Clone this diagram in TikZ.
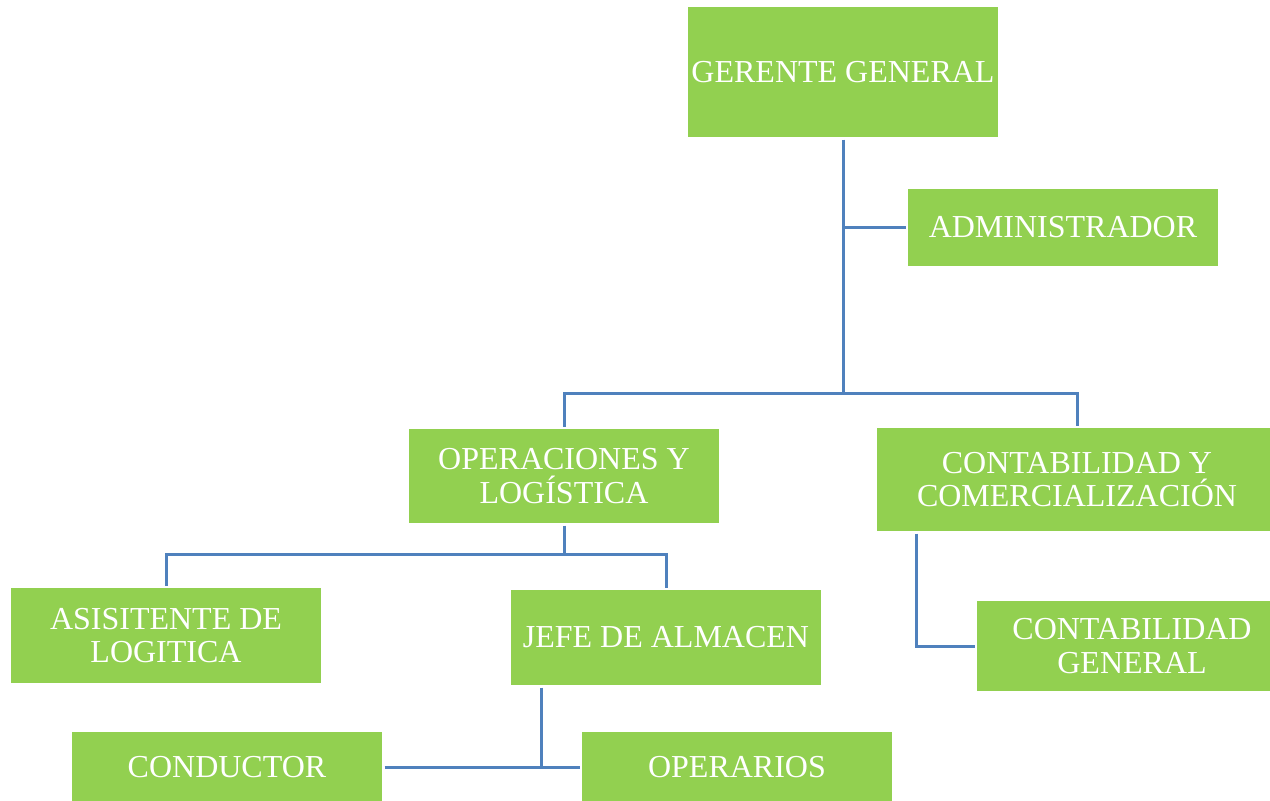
\documentclass[tikz,border=0pt]{standalone}
\usepackage{fontspec}
\setmainfont{Liberation Serif}
\definecolor{boxgreen}{HTML}{92D050}
\definecolor{linkblue}{HTML}{4F81BD}
\begin{document}
\begin{tikzpicture}[x=1pt,y=-1pt,
  orgbox/.style={fill=boxgreen, draw=none, text=white, inner sep=0pt, outer sep=2.5pt,
    align=center, minimum width=310pt, font=\fontsize{32}{33.5}\selectfont},
  conn/.style={draw=linkblue, line width=3pt}]
\useasboundingbox (0,0) rectangle (1270,801);
\node[orgbox, minimum height=130pt] (G) at (843,72) {GERENTE GENERAL};
\node[orgbox, minimum height=77pt] (ADM) at (1063,227.5) {ADMINISTRADOR};
\node[orgbox, minimum height=94pt] (OPS) at (564,476) {OPERACIONES Y\\LOGÍSTICA};
\node[orgbox, minimum width=400pt, minimum height=103pt] (CON) at (1077,479.5) {CONTABILIDAD Y\\COMERCIALIZACIÓN};
\node[orgbox, minimum height=95pt] (ASI) at (166,635.5) {ASISITENTE DE\\LOGITICA};
\node[orgbox, minimum height=95pt] (JEFE) at (666,637.5) {JEFE DE ALMACEN};
\node[orgbox, minimum height=90pt] (CG) at (1132,646) {CONTABILIDAD\\GENERAL};
\node[orgbox, minimum height=70pt] (COND) at (227,767) {CONDUCTOR};
\node[orgbox, minimum height=70pt] (OPE) at (737,767) {OPERARIOS};
\coordinate (bus1) at (843,393);
\coordinate (bus2) at (564,554.5);
\draw[conn] (G.south) -- (bus1);
\draw[conn] (G.south |- ADM.west) -- (ADM.west);
\draw[conn] (OPS.north) -- (OPS.north |- bus1) -- (CON.north |- bus1) -- (CON.north);
\draw[conn] (OPS.south) -- (bus2);
\draw[conn] (ASI.north) -- (ASI.north |- bus2) -- (JEFE.north |- bus2) -- (JEFE.north);
\draw[conn] ([xshift=42pt]CON.south west) |- (CG.west);
\draw[conn] (COND.east) -- (OPE.west);
\draw[conn] ([xshift=33pt]JEFE.south west) -- ([xshift=33pt]JEFE.south west |- OPE.west);
\end{tikzpicture}
\end{document}
